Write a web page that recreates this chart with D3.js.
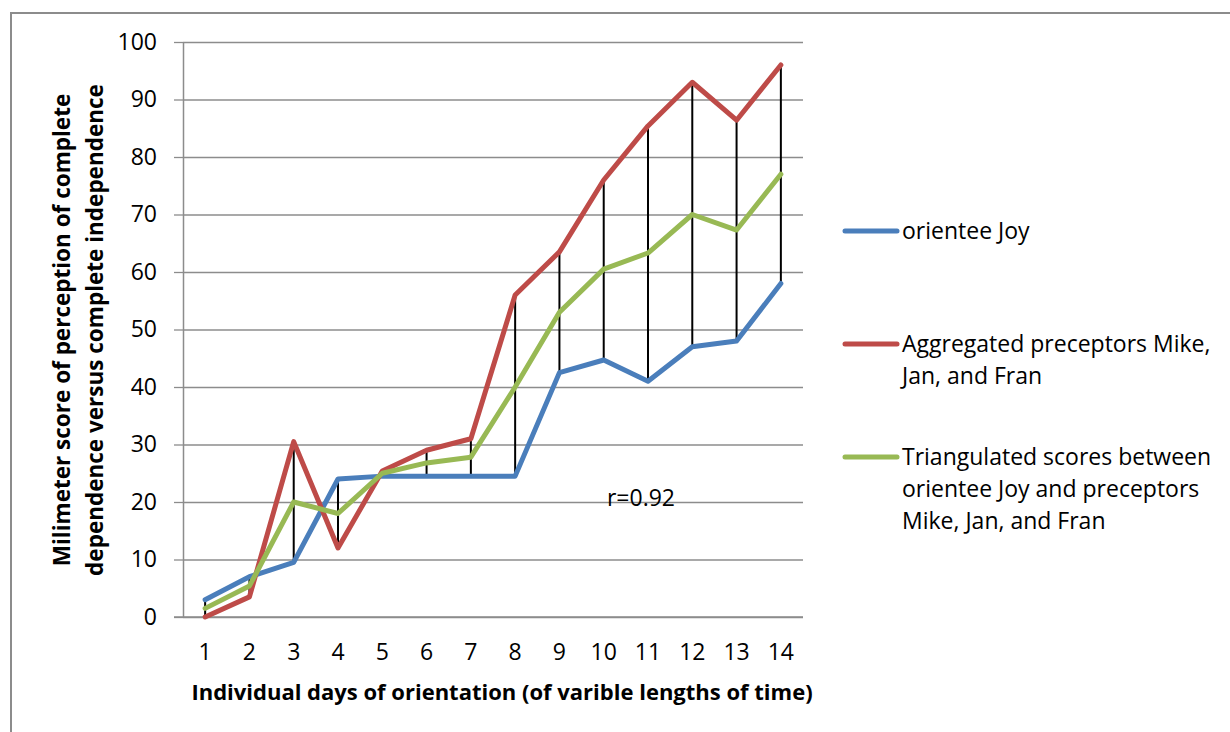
<!DOCTYPE html>
<html>
<head>
<meta charset="utf-8">
<script src="https://cdn.jsdelivr.net/npm/d3@7"></script>
<style>
  html, body { margin: 0; padding: 0; background: #ffffff; }
  svg { display: block; }
  text { font-family: "Open Sans", "Noto Sans", sans-serif; fill: #000; }
</style>
</head>
<body>
<svg id="chart" width="1230" height="732"></svg>
<script>
// Orientation days 1–14
const days = [1, 2, 3, 4, 5, 6, 7, 8, 9, 10, 11, 12, 13, 14];

// Millimeter scores per day
const joyScores        = [3, 7, 9.5, 24, 24.5, 24.5, 24.5, 24.5, 42.5, 44.7, 41, 47, 48, 58];
const preceptorScores  = [0, 3.5, 30.5, 12, 25.4, 29, 31, 56, 63.5, 76, 85.4, 93, 86.4, 96];
const triangulated     = [1.5, 5.4, 20, 18, 25, 26.8, 27.8, 40, 53, 60.5, 63.3, 70, 67.3, 77];

const yTicks = [0, 10, 20, 30, 40, 50, 60, 70, 80, 90, 100];

const seriesNames = [
  ["orientee Joy"],
  ["Aggregated preceptors Mike,", "Jan, and Fran"],
  ["Triangulated scores between", "orientee Joy and preceptors", "Mike, Jan, and Fran"]
];
const seriesColors = ["#4a7ebb", "#be4b48", "#98b954"];
const correlationLabel = "r=0.92";

const xAxisTitle = "Individual days of orientation (of varible lengths of time)";
const yAxisTitle = ["Milimeter score of perception of complete", "dependence versus complete independence"];

const series = [joyScores, preceptorScores, triangulated];

const svg = d3.select("#chart");

// chart frame
svg.append("rect")
  .attr("x", 11).attr("y", 13)
  .attr("width", 1240).attr("height", 740)
  .attr("fill", "none").attr("stroke", "#8c8c8c").attr("stroke-width", 2);

const plot = { left: 183, right: 803, top: 42, bottom: 617 };

const x = d3.scaleBand().domain(days).range([plot.left, plot.right]).padding(0);
const cx = d => x(d) + x.bandwidth() / 2;
const y = d3.scaleLinear().domain([0, 100]).range([plot.bottom, plot.top]);

// horizontal gridlines
svg.append("g")
  .attr("transform", `translate(${plot.left},0)`)
  .call(d3.axisLeft(y).tickValues(yTicks).tickSize(-(plot.right - plot.left)).tickFormat(""))
  .call(g => g.select(".domain").remove())
  .call(g => g.selectAll("line").attr("stroke", "#8c8c8c").attr("stroke-width", 1.3));

// value axis with outward ticks
const yAxisG = svg.append("g")
  .attr("transform", `translate(${plot.left},0)`)
  .call(d3.axisLeft(y).tickValues(yTicks).tickSize(9).tickSizeOuter(0).tickPadding(17));
yAxisG.select(".domain").attr("stroke", "#8c8c8c").attr("stroke-width", 1.5);
yAxisG.selectAll(".tick line").attr("stroke", "#8c8c8c").attr("stroke-width", 1.3);
yAxisG.selectAll(".tick text")
  .style("font-family", '"Open Sans", sans-serif').style("font-size", "23px").attr("fill", "#000");

// category axis
const xAxisG = svg.append("g")
  .attr("transform", `translate(0,${plot.bottom})`)
  .call(d3.axisBottom(x).tickSize(0).tickPadding(27));
xAxisG.select(".domain").attr("stroke", "#8c8c8c").attr("stroke-width", 1.5)
  .attr("d", `M${plot.left - 9},0H${plot.right}`);
xAxisG.selectAll(".tick text")
  .style("font-family", '"Open Sans", sans-serif').style("font-size", "23px").attr("fill", "#000");

// high-low lines across the three series
svg.append("g").selectAll("line")
  .data(days.map((d, i) => ({ d, vals: series.map(s => s[i]) })))
  .join("line")
  .attr("x1", p => cx(p.d)).attr("x2", p => cx(p.d))
  .attr("y1", p => y(d3.max(p.vals))).attr("y2", p => y(d3.min(p.vals)))
  .attr("stroke", "#000").attr("stroke-width", 2);

// series lines
const line = d3.line().x((v, i) => cx(days[i])).y(v => y(v));
svg.append("g").selectAll("path")
  .data(series)
  .join("path")
  .attr("d", s => line(s))
  .attr("fill", "none")
  .attr("stroke", (s, i) => seriesColors[i])
  .attr("stroke-width", 5)
  .attr("stroke-linejoin", "round")
  .attr("stroke-linecap", "round");

// correlation label
svg.append("text")
  .attr("x", 641).attr("y", 506)
  .attr("text-anchor", "middle")
  .style("font-size", "23px")
  .text(correlationLabel);

// legend
const legendRows = [231, 344, 457];
const lineGap = 32;
const legend = svg.append("g");
seriesNames.forEach((lines, i) => {
  legend.append("line")
    .attr("x1", 845).attr("x2", 897)
    .attr("y1", legendRows[i]).attr("y2", legendRows[i])
    .attr("stroke", seriesColors[i]).attr("stroke-width", 5)
    .attr("stroke-linecap", "round");
  const t = legend.append("text").style("font-size", "23px");
  lines.forEach((ln, j) => {
    t.append("tspan")
      .attr("x", 902).attr("y", legendRows[i] + j * lineGap)
      .attr("dy", "0.35em")
      .text(ln);
  });
});

// axis titles
svg.append("text")
  .attr("x", 502).attr("y", 700)
  .attr("text-anchor", "middle")
  .style("font-size", "22px").style("font-weight", "bold")
  .text(xAxisTitle);

const yt = svg.append("text")
  .attr("transform", "translate(0,330) rotate(-90)")
  .attr("text-anchor", "middle")
  .style("font-size", "22.5px").style("font-weight", "bold");
yAxisTitle.forEach((ln, j) => {
  yt.append("tspan").attr("x", 0).attr("y", 70 + j * 33).text(ln);
});
</script>
</body>
</html>
